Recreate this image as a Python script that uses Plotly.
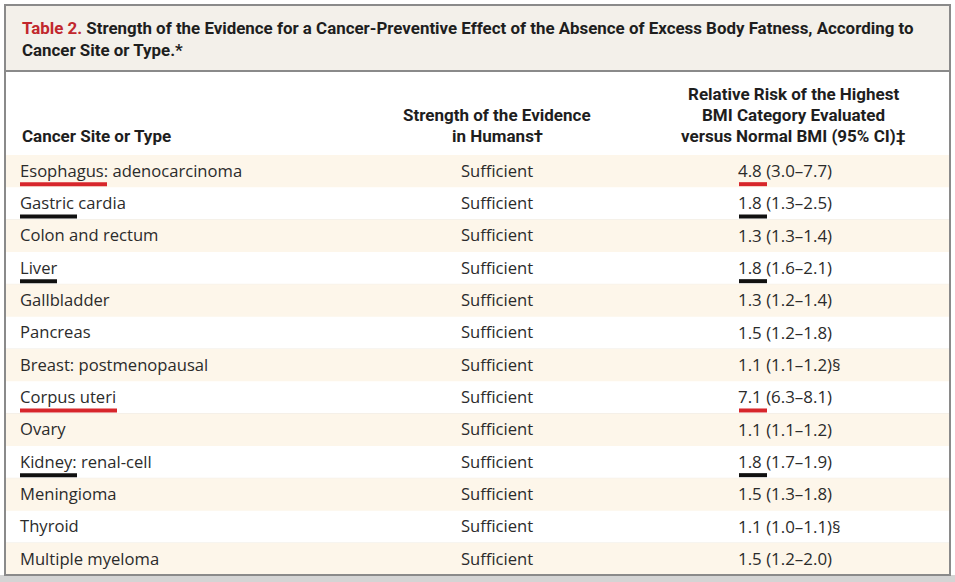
import plotly.graph_objects as go

# table content
title_lines = [
    "<span style='color:#c1272d'>Table 2.</span> Strength of the Evidence for a Cancer-Preventive Effect of the Absence of Excess Body Fatness, According to",
    "Cancer Site or Type.*",
]
col_headers = [
    ["Cancer Site or Type"],
    ["Strength of the Evidence", "in Humans†"],
    ["Relative Risk of the Highest", "BMI Category Evaluated", "versus Normal BMI (95% CI)‡"],
]
sites = [
    "Esophagus: adenocarcinoma", "Gastric cardia", "Colon and rectum", "Liver",
    "Gallbladder", "Pancreas", "Breast: postmenopausal", "Corpus uteri", "Ovary",
    "Kidney: renal-cell", "Meningioma", "Thyroid", "Multiple myeloma",
]
evidence = ["Sufficient"] * 13
rr = [4.8, 1.8, 1.3, 1.8, 1.3, 1.5, 1.1, 7.1, 1.1, 1.8, 1.5, 1.1, 1.5]
ci_low = [3.0, 1.3, 1.3, 1.6, 1.2, 1.2, 1.1, 6.3, 1.1, 1.7, 1.3, 1.0, 1.2]
ci_high = [7.7, 2.5, 1.4, 2.1, 1.4, 1.8, 1.2, 8.1, 1.2, 1.9, 1.8, 1.1, 2.0]
footnote_mark = ["", "", "", "", "", "", "§", "", "", "", "", "§", ""]
# hand-drawn highlights: row -> (colour, length of underlined word in px)
marks = {0: ("#d7262b", 87), 1: ("#111111", 57), 3: ("#111111", 37),
         7: ("#d7262b", 97), 9: ("#111111", 57)}

W, H = 955, 582
L, R, T, B = 5, 950, 5, 575
row_top0, row_h = 155, 32.33
body_font = "Open Sans"
head_font = "Roboto"

fig = go.Figure()
shapes = []

# frame + title band
shapes.append(dict(type="rect", x0=L, x1=R, y0=T, y1=71, fillcolor="#f3f0ea",
                   line=dict(width=0), layer="below"))
shapes.append(dict(type="rect", x0=0, x1=W, y0=B, y1=H, fillcolor="#d4d4d4",
                   line=dict(width=0), layer="below"))

# row stripes
for i in range(len(sites)):
    y0 = row_top0 + i * row_h
    if i % 2 == 0:
        shapes.append(dict(type="rect", x0=L, x1=R, y0=y0, y1=y0 + row_h,
                           fillcolor="#fdf6ea", line=dict(width=0), layer="below"))
    else:
        shapes.append(dict(type="line", x0=L, x1=R, y0=y0 + row_h, y1=y0 + row_h,
                           line=dict(color="#f0ece4", width=1), layer="below"))

shapes.append(dict(type="line", x0=L, x1=R, y0=71, y1=71, line=dict(color="#8a8a8a", width=2)))
shapes.append(dict(type="rect", x0=L, x1=R, y0=T, y1=B, line=dict(color="#8a8a8a", width=2)))

centers = [row_top0 + row_h * (i + 0.5) for i in range(len(sites))]
text_y = [c + 1.5 for c in centers]

fig.add_trace(go.Scatter(
    x=[20] * len(sites), y=text_y, mode="text", text=sites, textposition="middle right",
    textfont=dict(family=body_font, size=16.6, color="#2b2b2b"), hoverinfo="skip"))
fig.add_trace(go.Scatter(
    x=[497] * len(sites), y=text_y, mode="text", text=evidence, textposition="middle center",
    textfont=dict(family=body_font, size=16.6, color="#2b2b2b"), hoverinfo="skip"))
rr_text = [f"{v:.1f} ({a:.1f}–{b:.1f}){m}" for v, a, b, m in zip(rr, ci_low, ci_high, footnote_mark)]
fig.add_trace(go.Scatter(
    x=[738] * len(sites), y=text_y, mode="text", text=rr_text, textposition="middle right",
    textfont=dict(family=body_font, size=16.9, color="#2b2b2b"), hoverinfo="skip"))

# underline strokes
for i, (c, ln) in marks.items():
    yy = centers[i] + 13
    for x0, x1 in [(20, 20 + ln), (739, 767)]:
        fig.add_trace(go.Scatter(x=[x0, x1], y=[yy, yy], mode="lines",
                                 line=dict(color=c, width=4), hoverinfo="skip"))

annotations = []
for k, line in enumerate(title_lines):
    annotations.append(dict(x=20, y=28 + k * 22, text="<b>" + line + "</b>", showarrow=False,
                            xanchor="left", yanchor="middle",
                            font=dict(family=head_font, size=16.9, color="#1e1e1e")))
head_x = [(20, "left"), (497, "center"), (793, "center")]
for (hx, anc), lines in zip(head_x, col_headers):
    n = len(lines)
    for k, line in enumerate(lines):
        annotations.append(dict(x=hx, y=136 - (n - 1 - k) * 21, text="<b>" + line + "</b>",
                                showarrow=False, xanchor=anc, yanchor="middle",
                                font=dict(family=head_font, size=17, color="#1e1e1e")))

fig.update_layout(
    width=W, height=H, margin=dict(l=0, r=0, t=0, b=0),
    plot_bgcolor="white", paper_bgcolor="white", showlegend=False,
    xaxis=dict(range=[0, W], visible=False, fixedrange=True),
    yaxis=dict(range=[H, 0], visible=False, fixedrange=True),
    shapes=shapes, annotations=annotations,
)
fig.write_html("out.html", config={"displayModeBar": False},
               post_script="document.body.style.margin='0';")
